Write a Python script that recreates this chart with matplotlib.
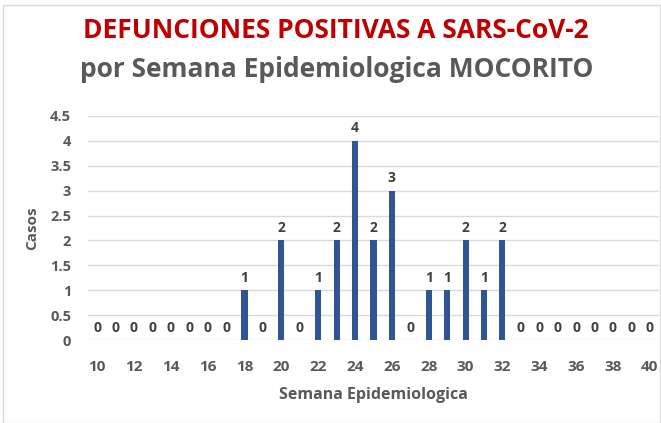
import matplotlib.pyplot as plt
from matplotlib.patches import Rectangle

# semanas epidemiologicas y defunciones
semanas = list(range(10, 41))
casos = [0, 0, 0, 0, 0, 0, 0, 0, 1, 0, 2, 0, 1, 2, 4, 2, 3, 0,
         1, 1, 2, 1, 2, 0, 0, 0, 0, 0, 0, 0, 0]
ticks_x = list(range(10, 41, 2))
ticks_y = [0, 0.5, 1, 1.5, 2, 2.5, 3, 3.5, 4, 4.5]

plt.rcParams['font.family'] = ['Open Sans', 'DejaVu Sans']
gris = '#595959'

fig = plt.figure(figsize=(6.61, 4.23), dpi=100)
fig.patches.append(Rectangle((0.004, 0.0), 0.994, 0.988, transform=fig.transFigure,
                             fill=False, edgecolor='#D9D9D9', linewidth=1))
ax = fig.add_axes([0.133, 0.196, 0.864, 0.530])

ax.bar(semanas, casos, width=0.33, color='#2F5597', zorder=3)
for s, c in zip(semanas, casos):
    ax.text(s, c + 0.11, str(c), ha='center', va='bottom', fontsize=10,
            fontweight='bold', color='#404040')

ax.set_xlim(9.5, 40.5)
ax.set_ylim(0, 4.5)
ax.set_xticks(ticks_x)
ax.set_yticks(ticks_y)
ax.set_yticklabels([f'{v:g}' for v in ticks_y])
ax.tick_params(axis='x', length=0, labelsize=11, colors=gris, pad=14)
ax.tick_params(axis='y', length=0, labelsize=10.5, colors=gris, pad=12)
for lab in ax.get_xticklabels() + ax.get_yticklabels():
    lab.set_fontweight('bold')
ax.grid(axis='y', color='#D9D9D9', linewidth=1, zorder=0)
for sp in ax.spines.values():
    sp.set_visible(False)

ax.set_xlabel('Semana Epidemiologica', fontsize=11.5, fontweight='bold',
              color=gris, labelpad=10)
ax.set_ylabel('Casos', fontsize=11, fontweight='bold', color=gris, labelpad=8)

fig.text(0.508, 0.928, 'DEFUNCIONES POSITIVAS A SARS-CoV-2', ha='center',
         va='center', fontsize=19, fontweight='bold', color='#C00000')
fig.text(0.51, 0.836, 'por Semana Epidemiologica MOCORITO', ha='center',
         va='center', fontsize=19, fontweight='bold', color=gris)

fig.savefig('out.png', dpi=100)
